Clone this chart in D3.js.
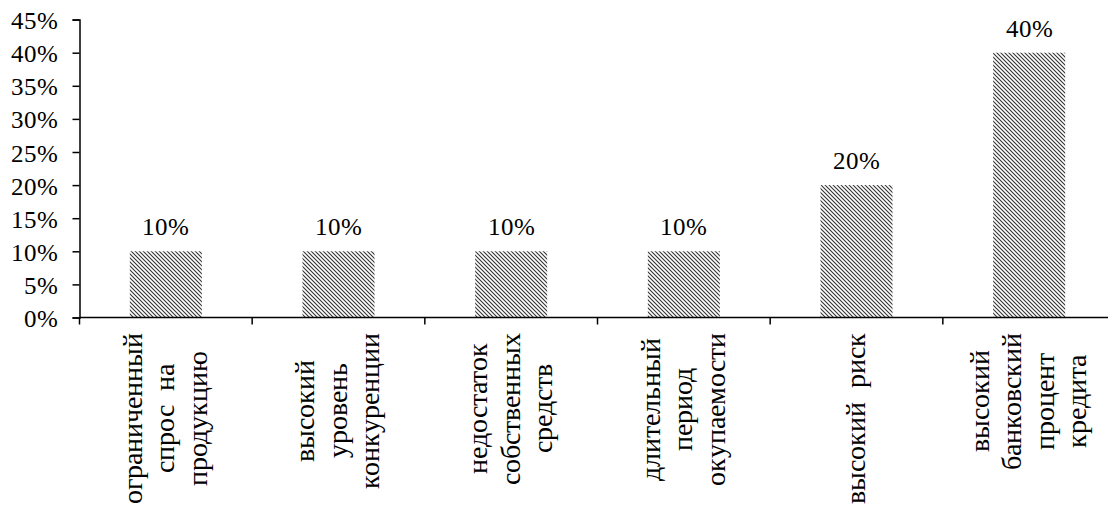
<!DOCTYPE html>
<html>
<head>
<meta charset="utf-8">
<style>
  @font-face {
    font-family: "ChartSerif";
    src: local("Liberation Serif"), local("LiberationSerif-Regular"), local("LiberationSerif");
  }
</style>
<script src="https://cdn.jsdelivr.net/npm/d3@7"></script>
</head>
<body style="margin:0">
<svg id="chart" width="1108" height="505" font-family="ChartSerif, 'Liberation Serif', serif"></svg>
<script>
// Reasons for refusing bank credit, share of respondents
const categories = [
  "ограниченный спрос на продукцию",
  "высокий уровень конкуренции",
  "недостаток собственных средств",
  "длительный период окупаемости",
  "высокий риск",
  "высокий банковский процент кредита"
];
const categoryLines = [
  ["ограниченный", "спрос  на", "продукцию"],
  ["высокий", "уровень", "конкуренции"],
  ["недостаток", "собственных", "средств"],
  ["длительный", "период", "окупаемости"],
  ["высокий  риск"],
  ["высокий", "банковский", "процент", "кредита"]
];
const values = [10, 10, 10, 10, 20, 40];
const yTicks = [0, 5, 10, 15, 20, 25, 30, 35, 40, 45];

const FONT = "ChartSerif, 'Liberation Serif', serif";
const svg = d3.select("#chart");
const plotLeft = 79.5, plotRight = 1115.5, plotTop = 19.6, plotBottom = 317.5;

const x = d3.scaleBand().domain(categories).range([plotLeft, plotRight]).padding(0);
const y = d3.scaleLinear().domain([0, 45]).range([plotBottom, plotTop]);
const barFrac = 0.417;

function draw() {
  svg.selectAll("*").remove();

  // diagonal hatch fill
  const defs = svg.append("defs");
  const pat = defs.append("pattern")
    .attr("id", "hatch")
    .attr("patternUnits", "userSpaceOnUse")
    .attr("width", 4).attr("height", 4);
  pat.append("rect").attr("width", 4).attr("height", 4).attr("fill", "#fff");
  pat.append("path")
    .attr("d", "M0,0 L4,4 M-1,3 L1,5 M3,-1 L5,1")
    .attr("stroke", "#333").attr("stroke-width", 1.1);

  // bars
  svg.append("g").selectAll("rect")
    .data(values)
    .join("rect")
    .attr("x", (d, i) => x(categories[i]) + x.step() * (1 - barFrac) / 2)
    .attr("width", x.step() * barFrac)
    .attr("y", d => y(d))
    .attr("height", d => y(0) - y(d))
    .attr("fill", "url(#hatch)");

  // value labels
  svg.append("g").selectAll("text")
    .data(values)
    .join("text")
    .attr("x", (d, i) => x(categories[i]) + x.bandwidth() / 2)
    .attr("y", d => y(d) - 16)
    .attr("text-anchor", "middle")
    .style("font-family", FONT)
    .attr("font-size", 25)
    .attr("fill", "#000")
    .text(d => d + "%");

  // y axis
  const yAxis = svg.append("g")
    .attr("transform", `translate(${plotLeft},0)`)
    .call(d3.axisLeft(y).tickValues(yTicks).tickFormat(d => d + "%").tickSize(7).tickPadding(15));
  yAxis.attr("font-family", null).attr("font-size", 25);
  yAxis.select(".domain").attr("stroke", "#000").attr("stroke-width", 1.5);
  yAxis.selectAll(".tick line").attr("stroke", "#000").attr("stroke-width", 1.5);
  yAxis.selectAll(".tick text")
    .style("font-family", FONT)
    .attr("font-size", 25).attr("fill", "#000").attr("dy", "0.36em");

  // x axis: baseline plus separators between categories
  const xg = svg.append("g");
  xg.append("line")
    .attr("x1", plotLeft).attr("x2", plotRight)
    .attr("y1", y(0)).attr("y2", y(0))
    .attr("stroke", "#000").attr("stroke-width", 1.5);
  const bounds = categories.map(c => x(c)).concat([plotRight]);
  xg.selectAll("line.sep")
    .data(bounds)
    .join("line")
    .attr("class", "sep")
    .attr("x1", d => d).attr("x2", d => d)
    .attr("y1", y(0)).attr("y2", y(0) + 7)
    .attr("stroke", "#000").attr("stroke-width", 1.5);

  // rotated category labels: each block hangs just below the axis,
  // lines centred within the width of the block's longest line
  const lineGap = 32.5;
  const blockTop = y(0) + 15;
  const lg = svg.append("g");
  categoryLines.forEach((lines, i) => {
    const cx = x(categories[i]) + x.bandwidth() / 2;
    const nodes = lines.map((t, j) => {
      const off = (j - (lines.length - 1) / 2) * lineGap;
      return lg.append("text")
        .attr("text-anchor", "middle")
        .attr("dy", "0.3em")
        .style("font-family", FONT)
        .attr("font-size", 28)
        .attr("fill", "#000")
        .attr("xml:space", "preserve")
        .datum(cx + off)
        .text(t);
    });
    const maxLen = d3.max(nodes, n => n.node().getComputedTextLength());
    const cy = blockTop + maxLen / 2;
    nodes.forEach(n => n.attr("transform", d => `translate(${d},${cy}) rotate(-90)`));
  });
}

draw();
if (document.fonts && document.fonts.load) {
  document.fonts.load("28px ChartSerif").then(draw).catch(() => {});
}
</script>
</body>
</html>
